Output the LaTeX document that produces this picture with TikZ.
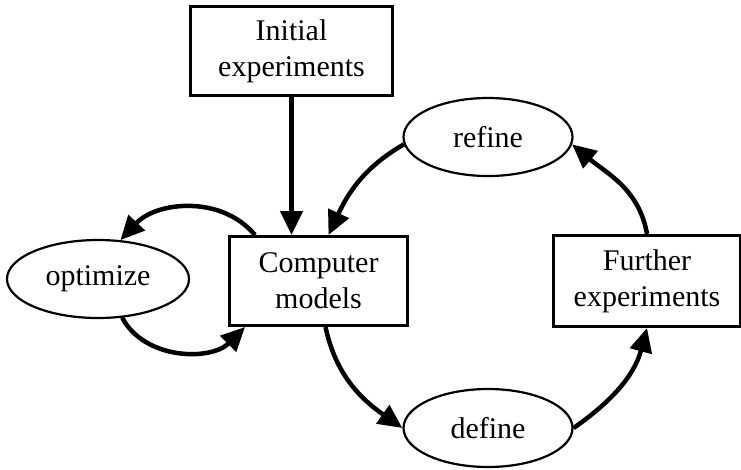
\documentclass[tikz,border=0pt]{standalone}
\usepackage{fontspec}
\setmainfont{Liberation Serif}
\usepackage{tikz}
\usetikzlibrary{shapes.geometric}
\usetikzlibrary{arrows.meta}

\begin{document}
\begin{tikzpicture}[x=1pt, y=1pt,
    every node/.style={font=\fontsize{30}{36}\selectfont, align=center},
    box/.style={draw, line width=3pt, inner sep=0pt},
    oval/.style={draw, ellipse, line width=2.2pt, inner sep=0pt, minimum width=169pt, minimum height=78pt},
    flow/.style={line width=4.5pt, -{Triangle[length=24pt,width=22pt]}}]
      \useasboundingbox (0,0) rectangle (741,-469);
      \node[box, minimum width=202pt, minimum height=89pt] (init) at (291.5,-51) {Initial\\experiments};
      \node[box, minimum width=178pt, minimum height=89pt] (comp) at (318.5,-281) {Computer\\models};
      \node[box, minimum width=187pt, minimum height=91pt] (further) at (647,-281) {Further\\experiments};
      \node[oval] (refine) at (488,-137) {refine};
      \node[oval] (define) at (488,-428) {define};
      \node[oval, minimum width=182pt] (opt) at (98,-279) {optimize};
      \draw[flow] (init) -- (init |- comp.north);
      \draw[flow] (refine.185) to[out=210, in=65] ([xshift=10pt]comp.north);
      \draw[flow] (further.north) to[out=100, in=-40] (refine.-5);
      \draw[flow] ([xshift=7pt]comp.south) to[out=-78, in=145] (define.west);
      \draw[flow] (define.east) to[out=35, in=-105] (further.south);
      \draw[flow] ([xshift=27pt]comp.north west) to[out=130, in=47] (opt.60);
      \draw[flow] (opt.-58) to[out=-62, in=225] ([xshift=17pt]comp.south west);
    \end{tikzpicture}
\end{document}
